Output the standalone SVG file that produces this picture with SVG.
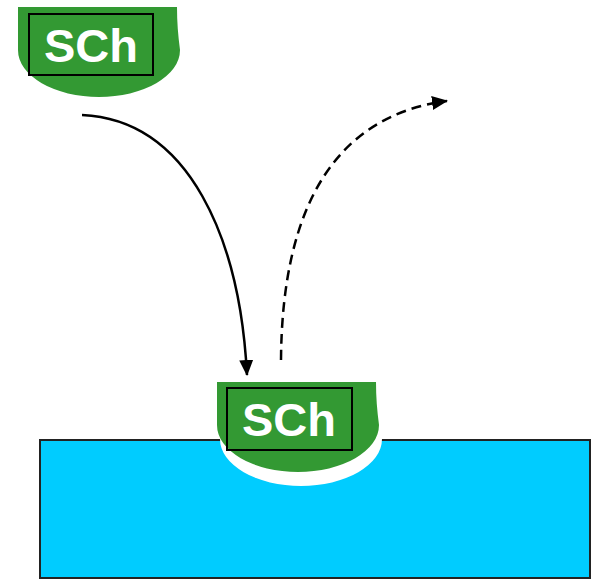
<svg xmlns="http://www.w3.org/2000/svg" width="600" height="580" viewBox="0 0 600 580">
<style>
.cap{fill:#339933;}
.lbl{fill:none;stroke:#000;stroke-width:2;}
.txt{font-family:"Liberation Sans",Arial,sans-serif;font-weight:bold;font-size:47px;fill:#fff;}
.conn{fill:none;stroke:#000;stroke-width:2.5;}
</style>
<defs>
<marker id="ah" markerWidth="16" markerHeight="14" refX="15" refY="7" orient="auto" markerUnits="userSpaceOnUse">
<path d="M0,0 L16,7 L0,14 Z" fill="#000"/>
</marker>
<path id="capShape" d="M0,0 H159 C159,15 160,28 162,43 A81,47 0 0 1 0,43 Z"/>
</defs>
<g id="surface">
<rect x="40" y="440" width="550" height="138" fill="#00ccff" stroke="#222" stroke-width="2"/>
</g>
<g id="top-sch">
<use href="#capShape" class="cap" x="18" y="7"/>
<rect class="lbl" x="29" y="14" width="124" height="61"/>
<text class="txt" x="91" y="62" text-anchor="middle">SCh</text>
</g>
<g id="bound-sch">
<use href="#capShape" fill="#fff" x="220" y="396"/>
<use href="#capShape" class="cap" x="217" y="382"/>
<rect class="lbl" x="227" y="388" width="125" height="62"/>
<text class="txt" x="289" y="436" text-anchor="middle">SCh</text>
</g>
<g id="connectors">
<path class="conn" d="M82,115 C190,120 240,240 247,375" marker-end="url(#ah)"/>
<path class="conn" d="M281,360 C282,200 340,115 447,101" stroke-dasharray="10,6" marker-end="url(#ah)"/>
</g>
</svg>
